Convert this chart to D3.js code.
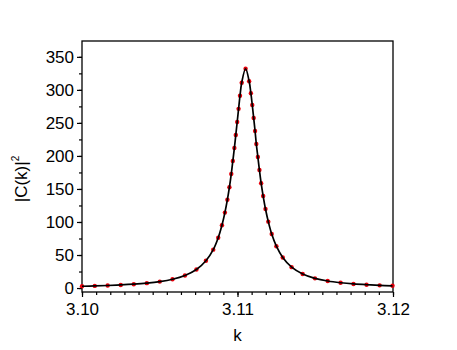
<!DOCTYPE html>
<html>
<head>
<meta charset="utf-8">
<script src="https://cdn.jsdelivr.net/npm/d3@7"></script>
<style>
  body { margin: 0; background: #fff; }
  text { font-family: "Liberation Sans", Arial, sans-serif; fill: #000; }
</style>
</head>
<body>
<div id="chart"></div>
<script>
// resonance peak, values
const kValues = [
  3.10000, 3.10082, 3.10165, 3.10249, 3.10333, 3.10417, 3.10500, 3.10582, 3.10662, 3.10736,
  3.10797, 3.10844, 3.10876, 3.10900, 3.10919, 3.10935, 3.10948, 3.10960, 3.10970, 3.10980,
  3.10989, 3.10998, 3.11007, 3.11016, 3.11027, 3.11052, 3.11075, 3.11086, 3.11095, 3.11104,
  3.11113, 3.11121, 3.11131, 3.11141, 3.11152, 3.11165, 3.11180, 3.11198, 3.11220, 3.11250,
  3.11291, 3.11348, 3.11419, 3.11498, 3.11580, 3.11663, 3.11746, 3.11830, 3.11914, 3.11997
];
const cValues = [
  2.73, 3.22, 3.85, 4.68, 5.81, 7.41, 9.73, 13.3, 19.0, 28.0,
  41.2, 58.1, 76.2, 95.1, 114.2, 133.7, 152.6, 172.8, 192.4, 212.1,
  231.7, 251.4, 271.3, 291.1, 310.8, 332.0, 313.0, 295.0, 277.1, 257.5,
  237.7, 218.0, 198.3, 178.6, 158.7, 139.3, 119.7, 100.5, 81.7, 63.3,
  46.3, 31.6, 21.3, 14.7, 10.6, 8.0, 6.2, 5.0, 4.1, 3.4
];
const xTicks = [3.10, 3.11, 3.12];
const yTicks = [0, 50, 100, 150, 200, 250, 300, 350];

const width = 457, height = 350;
const margin = { top: 41, right: 64, bottom: 58, left: 82 };
const plotW = width - margin.left - margin.right;
const plotH = height - margin.top - margin.bottom;

const svg = d3.select("#chart").append("svg")
  .attr("width", width)
  .attr("height", height);

const x = d3.scaleLinear().domain([3.10, 3.12]).range([margin.left, margin.left + plotW]);
const y = d3.scaleLinear().domain([-6, 374]).range([margin.top + plotH, margin.top]);

// minor ticks
const xMinor = d3.range(0, 23).map(i => 3.10 + i * 0.01 / 11).filter(v => v <= 3.12 + 1e-9);
const yMinor = d3.range(0, 15).map(i => i * 25);

svg.append("g")
  .attr("transform", `translate(0,${margin.top + plotH})`)
  .call(d3.axisBottom(x).tickValues(xMinor).tickSize(3).tickFormat(""))
  .call(g => g.select(".domain").remove());

svg.append("g")
  .attr("transform", `translate(${margin.left},0)`)
  .call(d3.axisLeft(y).tickValues(yMinor).tickSize(3).tickFormat(""))
  .call(g => g.select(".domain").remove());

const xAxis = svg.append("g")
  .attr("transform", `translate(0,${margin.top + plotH})`)
  .call(d3.axisBottom(x).tickValues(xTicks).tickSize(5).tickPadding(6).tickFormat(d3.format(".2f")));
xAxis.select(".domain").remove();
xAxis.selectAll("text").style("font-size", "17px");

const yAxis = svg.append("g")
  .attr("transform", `translate(${margin.left},0)`)
  .call(d3.axisLeft(y).tickValues(yTicks).tickSize(5).tickPadding(3));
yAxis.select(".domain").remove();
yAxis.selectAll("text").style("font-size", "17px");

svg.selectAll(".tick line").attr("stroke", "#000").attr("stroke-width", 1.2);

// frame
svg.append("rect")
  .attr("x", margin.left)
  .attr("y", margin.top)
  .attr("width", plotW)
  .attr("height", plotH)
  .attr("fill", "none")
  .attr("stroke", "#000")
  .attr("stroke-width", 1.3);

const data = kValues.map((k, i) => ({ k: k, c: cValues[i] }));

svg.append("g").selectAll("circle")
  .data(data)
  .join("circle")
  .attr("cx", d => x(d.k))
  .attr("cy", d => y(d.c))
  .attr("r", 2.2)
  .attr("fill", "#e8000b");

const line = d3.line()
  .x(d => x(d.k))
  .y(d => y(d.c))
  .curve(d3.curveCatmullRom.alpha(0.5));

svg.append("path")
  .datum(data)
  .attr("d", line)
  .attr("fill", "none")
  .attr("stroke", "#000")
  .attr("stroke-width", 1.7);

// axis titles
svg.append("text")
  .attr("x", x(3.11))
  .attr("y", 341)
  .attr("text-anchor", "middle")
  .style("font-size", "17px")
  .text("k");

const yLabel = svg.append("text")
  .attr("transform", "translate(27,179) rotate(-90)")
  .attr("text-anchor", "middle")
  .style("font-size", "17px");
yLabel.append("tspan").text("|C(k)|");
yLabel.append("tspan").attr("dy", -8).style("font-size", "10px").text("2");
</script>
</body>
</html>
